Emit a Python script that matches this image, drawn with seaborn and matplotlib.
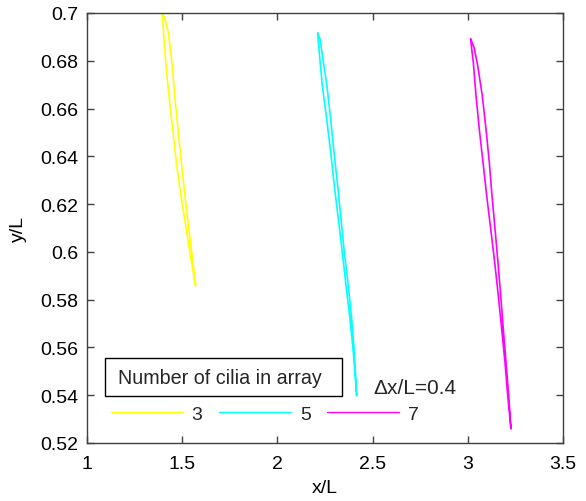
import numpy as np
import pandas as pd
import matplotlib
matplotlib.use("Agg")
import matplotlib.pyplot as plt
import seaborn as sns
from matplotlib.patches import Rectangle
from matplotlib.ticker import FuncFormatter, FixedLocator

# ---- data (closed cilia-tip trajectories) ----
x3 = [1.3955, 1.3976, 1.4018, 1.4149, 1.4322, 1.4517, 1.4711, 1.4963, 1.5236, 1.5462, 1.5709,
      1.5583, 1.5373, 1.5163, 1.4974, 1.4795, 1.4622, 1.4480, 1.4270, 1.4097, 1.3955]
y3 = [0.7000, 0.6975, 0.6919, 0.6779, 0.6640, 0.6502, 0.6361, 0.6221, 0.6083, 0.5970, 0.5858,
      0.5942, 0.6082, 0.6221, 0.6361, 0.6502, 0.6640, 0.6779, 0.6919, 0.6975, 0.7000]

x5 = [2.2117, 2.2148, 2.2358, 2.2589, 2.2799, 2.2988, 2.3199, 2.3409, 2.3603, 2.3813, 2.3987, 2.4165,
      2.4039, 2.3902, 2.3724, 2.3514, 2.3340, 2.3167, 2.2973, 2.2799, 2.2600, 2.2340, 2.2240, 2.2117]
y5 = [0.6916, 0.6880, 0.6696, 0.6556, 0.6417, 0.6277, 0.6138, 0.5998, 0.5859, 0.5719, 0.5580, 0.5398,
      0.5580, 0.5719, 0.5859, 0.5998, 0.6138, 0.6277, 0.6417, 0.6556, 0.6696, 0.6835, 0.6891, 0.6916]

x7 = [3.0152, 3.0205, 3.0289, 3.0431, 3.0604, 3.0798, 3.0993, 3.1203, 3.1413, 3.1602, 3.1780, 3.1954,
      3.2096, 3.2269, 3.2148, 3.2006, 3.1864, 3.1728, 3.1586, 3.1429, 3.1271, 3.1129, 3.0956, 3.0760,
      3.0520, 3.0330, 3.0152]
y7 = [0.6891, 0.6849, 0.6794, 0.6654, 0.6514, 0.6375, 0.6235, 0.6096, 0.5956, 0.5817, 0.5677, 0.5538,
      0.5398, 0.5259, 0.5398, 0.5538, 0.5677, 0.5817, 0.5956, 0.6096, 0.6235, 0.6375, 0.6514, 0.6654,
      0.6780, 0.6855, 0.6891]

labels = ["3", "5", "7"]
colors = ["#FFFF00", "#00FFFF", "#FF00FF"]
xticks = [1, 1.5, 2, 2.5, 3, 3.5]
yticks = [0.52, 0.54, 0.56, 0.58, 0.60, 0.62, 0.64, 0.66, 0.68, 0.70]

frames = []
for lab, xs, ys in zip(labels, [x3, x5, x7], [y3, y5, y7]):
    frames.append(pd.DataFrame({"x": xs, "y": ys, "n": lab}))
df = pd.concat(frames, ignore_index=True)

sns.set_theme(style="white")
plt.rcParams["font.family"] = ["Liberation Sans", "DejaVu Sans"]

fig = plt.figure(figsize=(5.86, 5.02), dpi=100)
ax = fig.add_axes([87/586, 58/502, 476/586, 430/502])

sns.lineplot(data=df, x="x", y="y", hue="n", palette=dict(zip(labels, colors)),
             sort=False, estimator=None, units="n", linewidth=1.2, ax=ax, legend=False)

ax.set_xlim(1, 3.5)
ax.set_ylim(0.52, 0.70)
ax.xaxis.set_major_locator(FixedLocator(xticks))
ax.yaxis.set_major_locator(FixedLocator(yticks))
fmt = FuncFormatter(lambda v, p: "%g" % round(v, 4))
ax.xaxis.set_major_formatter(fmt)
ax.yaxis.set_major_formatter(fmt)
ax.tick_params(direction="in", length=5, width=1, color="#404040",
               top=True, right=True, bottom=True, left=True,
               labelsize=14, labelcolor="black")
ax.tick_params(axis="x", pad=9)
ax.tick_params(axis="y", pad=6)
for s in ax.spines.values():
    s.set_color("#404040")
    s.set_linewidth(1.0)
ax.set_xlabel("x/L", fontsize=14, color="black", labelpad=5)
ax.set_ylabel("y/L", fontsize=14, color="black", labelpad=10)

# legend entries (no frame) below a boxed title
handles = [plt.Line2D([], [], color=c, lw=1.0) for c in colors]
leg = fig.legend(handles, labels, ncol=3, frameon=False, fontsize=14,
                 loc="center left", bbox_to_anchor=(111/586, 87/502),
                 borderpad=0, borderaxespad=0, handlelength=3.7,
                 handletextpad=0.45, columnspacing=0.85)

fig.patches.append(Rectangle((105/586, 104.7/502), 236.7/586, 38/502,
                             transform=fig.transFigure, facecolor="white",
                             edgecolor="black", linewidth=1.0, zorder=5))
fig.text(118/586, 123.7/502, "Number of cilia in array", fontsize=14.2,
         va="center", ha="left", zorder=6)
fig.text(373/586, 113.5/502, "\u0394x/L=0.4", fontsize=15, va="center", ha="left")

fig.savefig("out.png", dpi=100)
